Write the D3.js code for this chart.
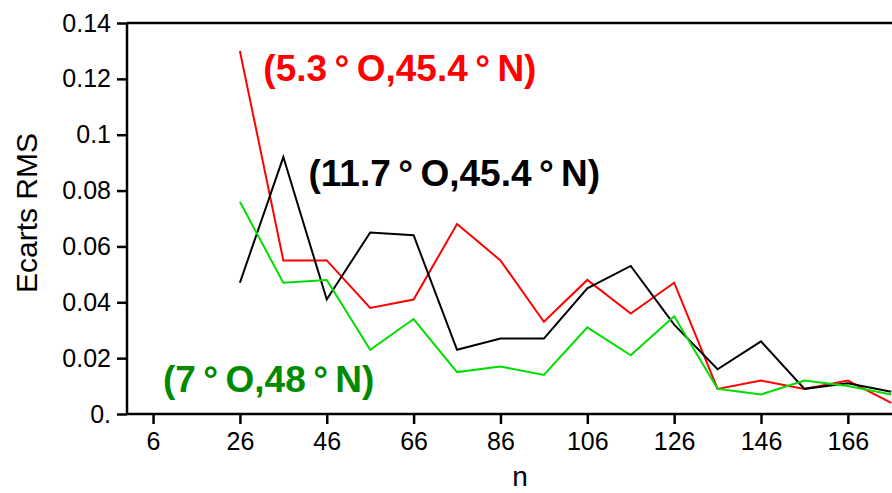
<!DOCTYPE html>
<html>
<head>
<meta charset="utf-8">
<script src="https://cdn.jsdelivr.net/npm/d3@7"></script>
<style>
  html, body { margin: 0; padding: 0; background: #fff; overflow: hidden; }
  svg { display: block; font-family: "Liberation Sans", Arial, sans-serif; }
</style>
</head>
<body>
<svg id="chart" width="892" height="493"></svg>
<script>
// harmonic degree n
const nValues = [26, 36, 46, 56, 66, 76, 86, 96, 106, 116, 126, 136, 146, 156, 166, 176];

// RMS differences for each site
const redSeries   = [0.130, 0.055, 0.055, 0.038, 0.041, 0.068, 0.055, 0.033, 0.048, 0.036, 0.047, 0.009, 0.012, 0.009, 0.012, 0.004];
const blackSeries = [0.047, 0.092, 0.041, 0.065, 0.064, 0.023, 0.027, 0.027, 0.045, 0.053, 0.032, 0.016, 0.026, 0.009, 0.011, 0.008];
const greenSeries = [0.076, 0.047, 0.048, 0.023, 0.034, 0.015, 0.017, 0.014, 0.031, 0.021, 0.035, 0.009, 0.007, 0.012, 0.010, 0.007];

const xTicks = [6, 26, 46, 66, 86, 106, 126, 146, 166];
const yTicks = [0, 0.02, 0.04, 0.06, 0.08, 0.1, 0.12, 0.14];
const yTickLabels = ['0.', '0.02', '0.04', '0.06', '0.08', '0.1', '0.12', '0.14'];

const seriesNames = ['(5.3\u2009°\u2009O,45.4\u2009°\u2009N)', '(11.7\u2009°\u2009O,45.4\u2009°\u2009N)', '(7\u2009°\u2009O,48\u2009°\u2009N)'];
// label anchors in data units (n, value)
const labelN = [31.4, 41.8, 8.3];
const labelV = [0.1192, 0.0815, 0.0079];

const margin = { top: 23, left: 127, bottom: 79 };
const width = 892, height = 493;
const plotRight = 913; // frame runs past the picture edge

const svg = d3.select('#chart');

const x = d3.scaleLinear()
  .domain([0, 181])
  .range([margin.left, plotRight]);

const y = d3.scaleLinear()
  .domain([0, 0.14])
  .range([height - margin.bottom, margin.top]);

// frame top
svg.append('line')
  .attr('x1', margin.left).attr('x2', plotRight)
  .attr('y1', y(0.14)).attr('y2', y(0.14))
  .attr('stroke', '#000').attr('stroke-width', 2.5);

// X axis
const xAxis = svg.append('g')
  .attr('transform', `translate(0,${y(0)})`)
  .call(d3.axisBottom(x).tickValues(xTicks).tickSize(10).tickPadding(8).tickFormat(d3.format('d')));
xAxis.select('.domain').attr('stroke-width', 2.5).attr('d', `M${margin.left},0H${plotRight}`);
xAxis.selectAll('.tick line').attr('stroke-width', 2.5);
xAxis.selectAll('.tick text').attr('font-size', 25).attr('font-family', 'Liberation Sans, Arial').attr('fill', '#000');

// Y axis
const yAxis = svg.append('g')
  .attr('transform', `translate(${margin.left},0)`)
  .call(d3.axisLeft(y).tickValues(yTicks).tickSize(10).tickPadding(6)
    .tickFormat((d, i) => yTickLabels[i]));
yAxis.select('.domain').attr('stroke-width', 2.5).attr('d', `M0,${y(0)}V${y(0.14)}`);
yAxis.selectAll('.tick line').attr('stroke-width', 2.5);
yAxis.selectAll('.tick text').attr('font-size', 25).attr('font-family', 'Liberation Sans, Arial').attr('fill', '#000');

// axis titles
svg.append('text')
  .attr('x', 520).attr('y', 486)
  .attr('text-anchor', 'middle')
  .attr('font-size', 28)
  .text('n');

svg.append('text')
  .attr('transform', `translate(37,213) rotate(-90)`)
  .attr('text-anchor', 'middle')
  .attr('font-size', 30)
  .text('Ecarts RMS');

// lines
const line = d3.line()
  .x((d, i) => x(nValues[i]))
  .y(d => y(d));

const lineColors = ['#ff0000', '#000000', '#00dd00'];
const textColors = ['#ff0000', '#000000', '#008a00'];
[redSeries, blackSeries, greenSeries].forEach((s, k) => {
  svg.append('path')
    .datum(s)
    .attr('fill', 'none')
    .attr('stroke', lineColors[k])
    .attr('stroke-width', 2)
    .attr('stroke-linejoin', 'miter')
    .attr('d', line);
});

// series labels
seriesNames.forEach((name, k) => {
  svg.append('text')
    .attr('x', x(labelN[k]))
    .attr('y', y(labelV[k]))
    .attr('font-size', 37)
    .attr('font-weight', 'bold')
    .attr('fill', textColors[k])
    .text(name);
});
</script>
</body>
</html>
